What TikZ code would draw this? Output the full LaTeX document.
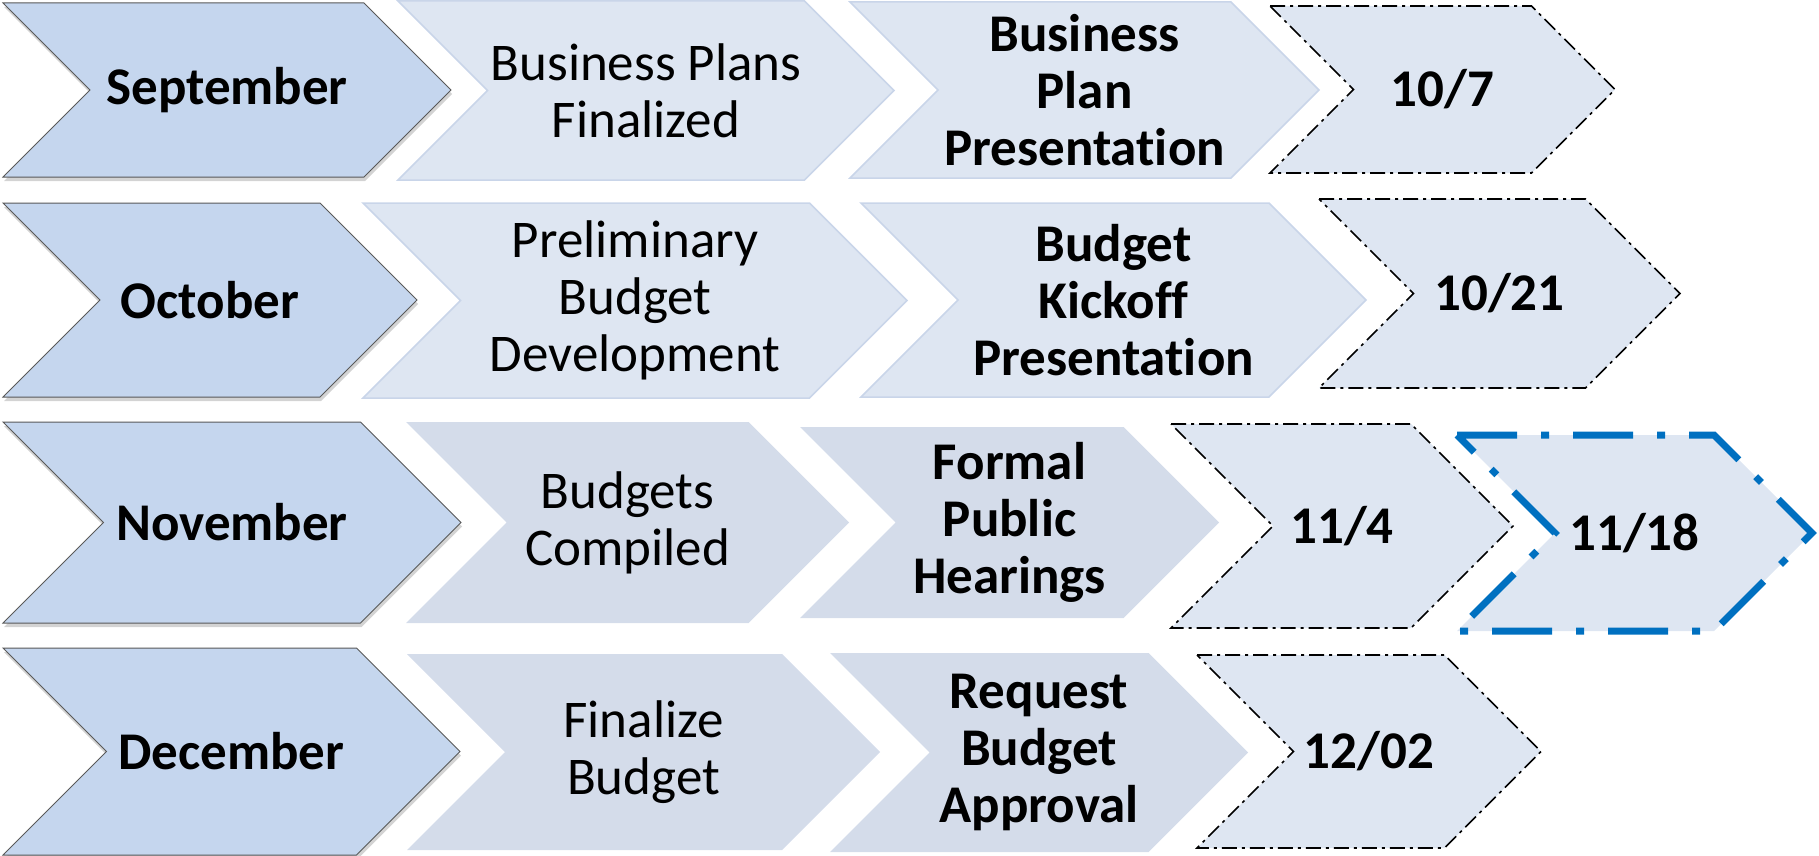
\documentclass[tikz,border=0pt]{standalone}
\usepackage{fontspec}
\setmainfont[Ligatures={NoCommon}]{Carlito}
\usepackage{tikz}
\usetikzlibrary{shadows}
\definecolor{monthfill}{HTML}{C5D6EE}
\definecolor{lightfill}{HTML}{DEE6F2}
\definecolor{lightedge}{HTML}{C9D5E9}
\definecolor{darkfill}{HTML}{D4DCEA}
\definecolor{nowblue}{HTML}{0070C0}
\tikzstyle{monthbox} = [fill=monthfill, draw=black!65, line width=1pt, drop shadow={shadow xshift=1pt, shadow yshift=-4pt, opacity=0.35}]
\tikzstyle{taskbox} = [fill=lightfill, draw=lightedge, line width=1.5pt]
\tikzstyle{taskboxdark} = [fill=darkfill]
\tikzstyle{datebox} = [fill=lightfill, draw=black, line width=1.6pt, dash pattern=on 15pt off 5pt on 3pt off 5pt]
\tikzstyle{datenow} = [fill=lightfill, draw=nowblue, line width=7pt, dash pattern=on 60pt off 24pt on 8pt off 24pt]
\tikzstyle{boldtext} = [align=center, font=\fontsize{53}{57}\selectfont\bfseries]
\tikzstyle{plaintext} = [align=center, font=\fontsize{53}{57}\selectfont]

% chevron: style, text style, name, left, top, tip, bottom, text
\newcommand{\chevron}[8]{%
  \pgfmathsetmacro{\halfh}{(#7-#5)/2}
  \path[#1] (#4,#5) -- ({#6-\halfh},#5) -- (#6,{#5+\halfh}) -- ({#6-\halfh},#7) -- (#4,#7) -- ({#4+\halfh},{#5+\halfh}) -- cycle;
  \node[#2] (#3) at ({(#4+#6)/2},{(#5+#7)/2}) {#8};
}

\begin{document}
\begin{tikzpicture}[x=1pt, y=-1pt]
    \useasboundingbox (0,0) rectangle (1819,856);
    % September
    \chevron{monthbox}{boldtext}{sep}{3}{3}{451}{177}{September}
    \chevron{taskbox}{plaintext}{sepplans}{398}{1}{894}{180}{Business Plans\\Finalized}
    \chevron{taskbox}{boldtext}{sepshow}{850}{2}{1319}{178}{Business\\Plan\\Presentation}
    \chevron{datebox}{boldtext}{sepdate}{1270}{6}{1615}{173}{10/7}
    % October
    \chevron{monthbox}{boldtext}{oct}{3}{203}{417}{397}{October}
    \chevron{taskbox}{plaintext}{octprelim}{363}{203}{907}{398}{Preliminary\\Budget\\Development}
    \chevron{taskbox}{boldtext}{octkickoff}{861}{203}{1366}{397}{Budget\\Kickoff\\Presentation}
    \chevron{datebox}{boldtext}{octdate}{1319}{199}{1680}{388}{10/21}
    % November
    \chevron{monthbox}{boldtext}{nov}{3}{422}{461}{623}{November}
    \chevron{taskboxdark}{plaintext}{novcompiled}{406}{422}{849}{623}{Budgets\\Compiled}
    \chevron{taskboxdark}{boldtext}{novhearings}{800}{427}{1219}{618}{Formal\\Public\\Hearings}
    \chevron{datebox}{boldtext}{novdate}{1171}{424}{1513}{628}{11/4}
    \chevron{datenow}{boldtext}{novnow}{1457}{435}{1812}{631}{11/18}
    % December
    \chevron{monthbox}{boldtext}{dec}{3}{648}{460}{855}{December}
    \chevron{taskboxdark}{plaintext}{decfinal}{407}{654}{880}{850}{Finalize\\Budget}
    \chevron{taskboxdark}{boldtext}{decapproval}{830}{653}{1248}{852}{Request\\Budget\\Approval}
    \chevron{datebox}{boldtext}{decdate}{1197}{655}{1541}{848}{12/02}
\end{tikzpicture}
\end{document}
